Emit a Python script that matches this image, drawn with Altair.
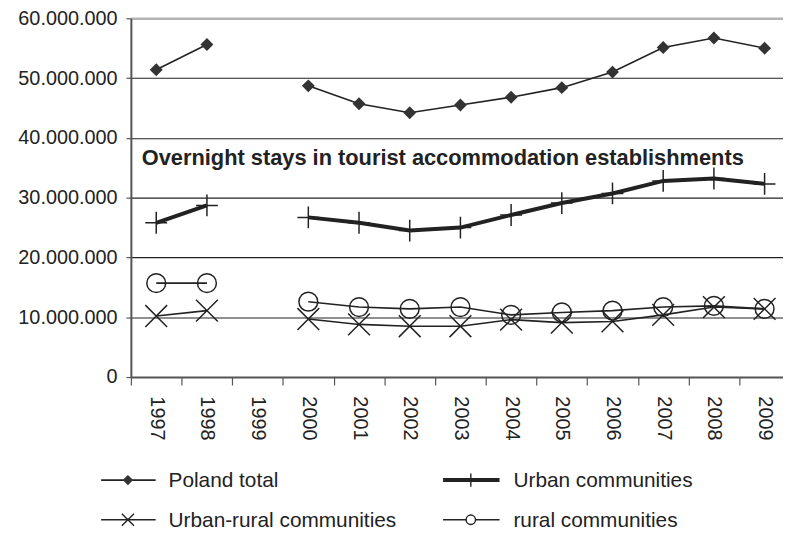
import altair as alt
import pandas as pd

# ---------------- data ----------------
years = ["1997", "1998", "1999", "2000", "2001", "2002", "2003",
         "2004", "2005", "2006", "2007", "2008", "2009"]

poland_total = [51_400_000, 55_600_000, None, 48_700_000, 45_700_000, 44_200_000,
                45_500_000, 46_800_000, 48_400_000, 51_000_000, 55_100_000,
                56_700_000, 55_000_000]
urban = [25_800_000, 28_700_000, None, 26_700_000, 25_800_000, 24_500_000,
         25_000_000, 27_100_000, 29_100_000, 30_700_000, 32_800_000,
         33_200_000, 32_300_000]
urban_rural = [10_200_000, 11_100_000, None, 9_700_000, 8_800_000, 8_500_000,
               8_500_000, 9_600_000, 9_100_000, 9_300_000, 10_400_000,
               11_700_000, 11_400_000]
rural = [15_700_000, 15_700_000, None, 12_600_000, 11_700_000, 11_400_000,
         11_700_000, 10_400_000, 10_800_000, 11_100_000, 11_700_000,
         11_900_000, 11_400_000]

series_names = ["Poland total", "Urban communities",
                "Urban-rural communities", "rural communities"]
series_values = [poland_total, urban, urban_rural, rural]
y_ticks = [0, 10_000_000, 20_000_000, 30_000_000, 40_000_000, 50_000_000, 60_000_000]
chart_title = "Overnight stays in tourist accommodation establishments"

# ---------------- styles ----------------
FONT = "Liberation Sans, Arial, sans-serif"
INK = "#222222"
PLUS = "M-1,0H1M0,-1V1"
XMARK = "M-1,-1L1,1M-1,1L1,-1"
VTICK = "M0,-1V1"
styles = {
    "Poland total": dict(line=1.6, shape="diamond", filled=True, size=170,
                         lshape="diamond", lsize=110, lfilled=True),
    "Urban communities": dict(line=4, shape=PLUS, filled=False, size=484,
                              lshape=VTICK, lsize=180, lfilled=False),
    "Urban-rural communities": dict(line=1.6, shape=XMARK, filled=False, size=484,
                                    lshape=XMARK, lsize=150, lfilled=False),
    "rural communities": dict(line=1.6, shape="circle", filled=False, size=361,
                              lshape="circle", lsize=90, lfilled=False),
}

W, H = 658, 362
x_scale = alt.Scale(type="band", domain=years, range=[0, 665],
                    paddingInner=0, paddingOuter=0)
y_scale = alt.Scale(domain=[0, 60_000_000], nice=False)

x_axis = alt.Axis(title=None, labelAngle=90, labelAlign="left", labelBaseline="middle",
                  labelFontSize=20, labelFont=FONT, labelColor=INK, labelPadding=11,
                  tickBand="extent", tickSize=8, tickColor="#555555", tickWidth=1.2,
                  domainColor="#555555", domainWidth=2, grid=False)
y_axis = alt.Axis(title=None, values=y_ticks,
                  labelExpr="replace(format(datum.value, ','), regexp(',', 'g'), '.')",
                  labelFontSize=20, labelFont=FONT, labelColor=INK, labelPadding=9,
                  tickSize=5, tickColor="#555555", tickWidth=1.2,
                  domainColor="#555555", domainWidth=2,
                  grid=True,
                  gridColor={"condition": {"test": "datum.value == 60000000", "value": "#b4b4b4"},
                             "value": INK},
                  gridWidth={"condition": {"test": "datum.value == 60000000", "value": 2.5},
                             "value": 1.1})

layers = []
for name, vals in zip(series_names, series_values):
    rows = []
    for yr, v in zip(years, vals):
        if v is None:
            continue
        rows.append({"year": yr, "value": v, "segment": 0 if int(yr) < 1999 else 1})
    df = pd.DataFrame(rows)
    st = styles[name]
    base = alt.Chart(df).encode(
        x=alt.X("year:O", scale=x_scale, axis=x_axis, bandPosition=0.5),
        y=alt.Y("value:Q", scale=y_scale, axis=y_axis),
    )
    line = base.mark_line(color=INK, strokeWidth=st["line"]).encode(detail="segment:N")
    pts = base.mark_point(shape=st["shape"], size=st["size"], filled=st["filled"],
                          color=INK if not st["filled"] else "#333333",
                          strokeWidth=1.5, opacity=1)
    layers += [line, pts]

one = pd.DataFrame({"k": [0]})
title_layer = alt.Chart(one).mark_text(
    align="left", baseline="middle", fontSize=22, fontWeight="bold",
    font=FONT, color=INK, text=chart_title
).encode(x=alt.value(11), y=alt.value(141))
layers.append(title_layer)

# ---------------- manual legend (layout below the plot) ----------------
leg_cols = [(-30, 25, -3, 38), (315, 372, 343, 386)]
leg_rows = [466, 506]
for i, name in enumerate(series_names):
    st = styles[name]
    x1, x2, xm, xt = leg_cols[i % 2]
    yy = leg_rows[i // 2]
    layers.append(alt.Chart(one).mark_rule(color=INK, strokeWidth=st["line"]).encode(
        x=alt.value(x1), x2=alt.value(x2), y=alt.value(yy)))
    layers.append(alt.Chart(one).mark_point(
        shape=st["lshape"], size=st["lsize"], filled=st["lfilled"],
        color="#333333" if st["lfilled"] else INK,
        fill="#333333" if st["lfilled"] else "white",
        strokeWidth=1.4, opacity=1).encode(x=alt.value(xm), y=alt.value(yy)))
    layers.append(alt.Chart(one).mark_text(
        align="left", baseline="middle", fontSize=21, font=FONT, color=INK,
        text=name).encode(x=alt.value(xt), y=alt.value(yy + 1)))

chart = alt.layer(*layers).properties(
    width=W, height=H,
    autosize=alt.AutoSizeParams(type="none"),
    padding={"left": 124, "top": 8, "right": 0, "bottom": 154},
).configure_view(stroke=None).configure(background="white")

chart.save("out.html", embed_options={"renderer": "svg", "actions": False})
